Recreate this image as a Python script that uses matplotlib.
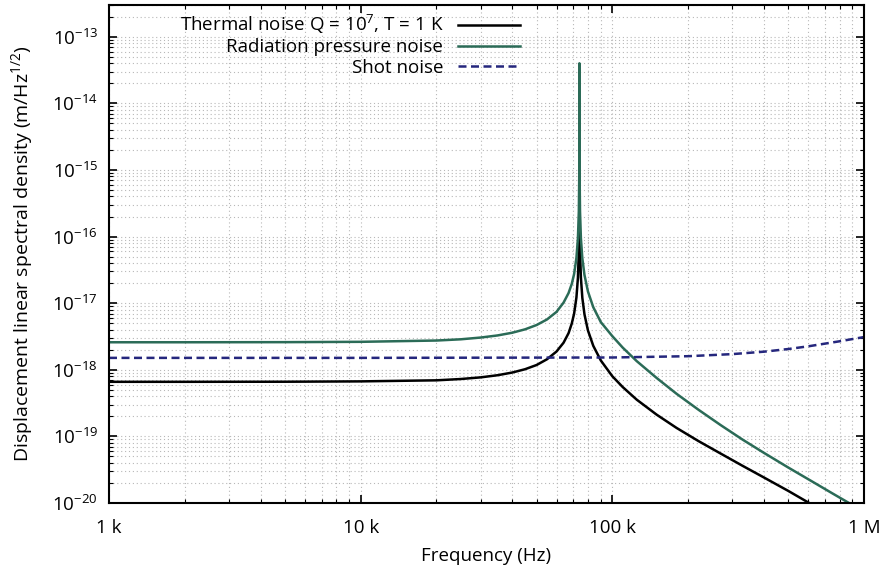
#!/usr/bin/env python3
"""Displacement noise spectra around the 74 kHz mechanical resonance."""
import numpy as np
import matplotlib
matplotlib.use('Agg')
import matplotlib.pyplot as plt
from matplotlib.ticker import LogLocator, NullFormatter, FixedLocator

plt.rcParams['font.family'] = ['Open Sans', 'DejaVu Sans']
plt.rcParams['mathtext.fontset'] = 'custom'
plt.rcParams['mathtext.rm'] = 'Open Sans'
plt.rcParams['mathtext.default'] = 'regular'

# frequency grid for the two resonant curves (Hz)
freq_hz = [1e3, 2e3, 5e3, 1e4, 2e4, 2.5e4, 3e4, 3.5e4, 4e4, 4.5e4, 5e4, 5.5e4,
           6e4, 6.4e4, 6.7e4, 6.9e4, 7.05e4, 7.2e4, 7.3e4, 7.36e4, 7.39e4,
           7.4e4, 7.41e4, 7.44e4, 7.5e4, 7.6e4, 7.75e4, 8e4, 8.4e4, 9e4, 1e5,
           1.1e5, 1.25e5, 1.5e5, 1.8e5, 2.2e5, 2.7e5, 3.3e5, 4e5, 5e5, 6e5,
           7.5e5, 1e6]

# m/Hz^1/2
thermal = [6.6e-19, 6.6e-19, 6.62e-19, 6.7e-19, 6.95e-19, 7.27e-19, 7.7e-19,
           8.29e-19, 9.09e-19, 1.02e-18, 1.18e-18, 1.44e-18, 1.88e-18,
           2.55e-18, 3.55e-18, 4.95e-18, 7.0e-18, 1.22e-17, 2.42e-17, 6.0e-17,
           1.2e-16, 1.5e-16, 1.2e-16, 6.1e-17, 2.43e-17, 1.2e-17, 6.8e-18,
           3.9e-18, 2.29e-18, 1.38e-18, 8.0e-19, 5.5e-19, 3.56e-19, 2.12e-19,
           1.34e-19, 8.5e-20, 5.5e-20, 3.6e-20, 2.42e-20, 1.52e-20, 1.02e-20,
           6.4e-21, 3.6e-21]

radiation = [2.59e-18, 2.59e-18, 2.6e-18, 2.63e-18, 2.75e-18, 2.87e-18,
             3.05e-18, 3.28e-18, 3.6e-18, 4.05e-18, 4.7e-18, 5.7e-18, 7.4e-18,
             1.02e-17, 1.42e-17, 1.95e-17, 2.75e-17, 4.8e-17, 9.5e-17,
             2.4e-16, 9e-16, 4.0e-14, 9e-16, 2.4e-16, 9.5e-17, 4.7e-17,
             2.65e-17, 1.5e-17, 8.7e-18, 5.2e-18, 3.2e-18, 2.15e-18, 1.35e-18,
             7.54e-19, 4.36e-19, 2.51e-19, 1.47e-19, 8.9e-20, 5.67e-20,
             3.41e-20, 2.28e-20, 1.39e-20, 7.4e-21]

shot_freq_hz = [1e3, 1e4, 1e5, 2e5, 3e5, 4e5, 5e5, 6e5, 8e5, 1e6]
shot = [1.51e-18, 1.51e-18, 1.53e-18, 1.6e-18, 1.72e-18, 1.87e-18, 2.05e-18,
        2.25e-18, 2.68e-18, 3.1e-18]

x_ticks = [1e3, 1e4, 1e5, 1e6]
x_ticklabels = ['1 k', '10 k', '100 k', '1 M']
y_exponents = [-20, -19, -18, -17, -16, -15, -14, -13]


fig = plt.figure(figsize=(8.83, 5.74), dpi=100)
ax = fig.add_axes([109 / 883, 1 - 503 / 574, 755 / 883, 498 / 574])

lw = 1.8
ax.plot(freq_hz, thermal, color='black', lw=lw,
        label=r'Thermal noise Q = 10$^{7}$, T = 1 K')
ax.plot(freq_hz, radiation, color='#2b6b57', lw=lw,
        label='Radiation pressure noise')
ax.plot(shot_freq_hz, shot, color='#25277d', lw=lw, dashes=(3.2, 1.8),
        label='Shot noise')

ax.set_xscale('log')
ax.set_yscale('log')
ax.set_xlim(1e3, 1e6)
ax.set_ylim(1e-20, 3e-13)

ax.xaxis.set_major_locator(FixedLocator(x_ticks))
ax.set_xticklabels(x_ticklabels)
ax.xaxis.set_minor_locator(LogLocator(base=10, subs=np.arange(2, 10), numticks=50))
ax.xaxis.set_minor_formatter(NullFormatter())
ax.yaxis.set_major_locator(FixedLocator([10.0 ** e for e in y_exponents]))
ax.set_yticklabels(['$10^{%d}$' % e for e in y_exponents])
ax.yaxis.set_minor_locator(LogLocator(base=10, subs=np.arange(2, 10), numticks=50))
ax.yaxis.set_minor_formatter(NullFormatter())

ax.tick_params(which='both', direction='in', top=True, right=True,
               labelsize=13.5, color='black')
ax.tick_params(which='major', length=6, width=1.2)
ax.tick_params(axis='x', which='major', pad=11.5)
ax.tick_params(axis='y', which='major', pad=8)
ax.tick_params(which='minor', length=3, width=0.8)
for s in ax.spines.values():
    s.set_linewidth(1.5)

ax.grid(True, which='both', color='#b8b8b8', lw=0.8, ls=(0, (1, 2.5)))
ax.set_axisbelow(True)

ax.set_xlabel('Frequency (Hz)', fontsize=13.5, labelpad=7)
ax.set_ylabel('Displacement linear spectral density (m/Hz$^{1/2}$)',
              fontsize=14, labelpad=12)

ax.legend(loc='upper right', bbox_to_anchor=(0.562, 1.01), frameon=False,
          markerfirst=False, fontsize=13.5, handlelength=3.3,
          handletextpad=0.8, labelspacing=0.12, borderaxespad=0.3)

fig.savefig('out.png', dpi=100)
